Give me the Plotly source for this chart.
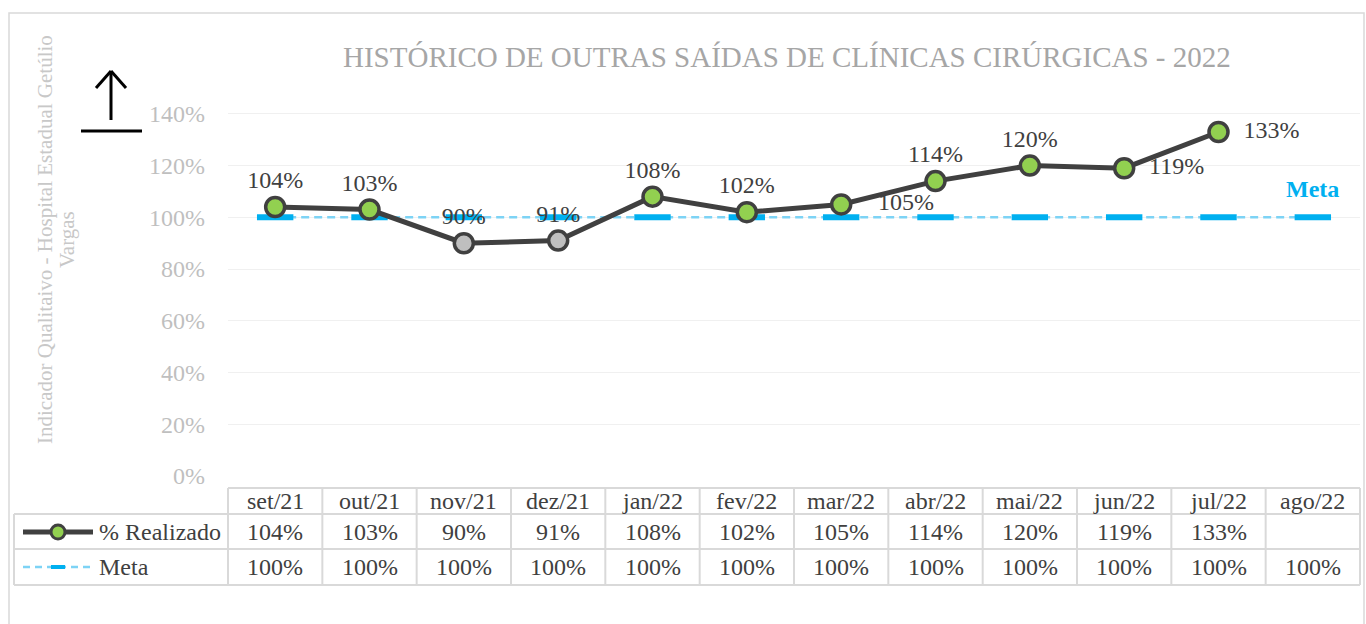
import plotly.graph_objects as go

# data
meses = ["set/21", "out/21", "nov/21", "dez/21", "jan/22", "fev/22",
         "mar/22", "abr/22", "mai/22", "jun/22", "jul/22", "ago/22"]
realizado = [1.04, 1.03, 0.90, 0.91, 1.08, 1.02, 1.05, 1.14, 1.20, 1.19, 1.33, None]
meta = [1.00] * 12
label_pos = ["top center"] * 6 + ["middle right"] + ["top center"] * 2 + ["middle right"] * 2 + ["top center"]
label_pad = [0] * 6 + [4] + [0] * 2 + [2] * 2 + [0]

TITLE = "HISTÓRICO DE OUTRAS SAÍDAS DE CLÍNICAS CIRÚRGICAS - 2022"
YTITLE_1 = "Indicador Qualitaivo - Hospital Estadual Getúlio"
YTITLE_2 = "Vargas"

DARK = "#404040"
GREEN = "#92d050"
GREY = "#bfbfbf"
BLUE = "#00b0f0"
LIGHT_BLUE = "#7dd3f5"
BORDER = "#d9d9d9"
FONT = "Liberation Serif, Times New Roman, serif"
FS = 24

W, H = 1366, 624
L, R, T, B = 228, 6, 88, 148
PW, PH = W - L - R, H - T - B


def px(x):
    return (x - L) / PW


def py(y):
    return (H - B - y) / PH


fig = go.Figure()

fig.add_trace(go.Scatter(
    x=meses, y=meta, mode="lines+markers", name="Meta",
    line=dict(color=LIGHT_BLUE, width=2.5, dash="8px,5px"),
    marker=dict(symbol="line-ew", size=26, line=dict(color=BLUE, width=6)),
    hoverinfo="skip",
))

colors = [GREEN if (v is not None and v >= 1) else GREY for v in realizado]
texts = []
for v, pad in zip(realizado, label_pad):
    texts.append("" if v is None else "\u00a0" * pad + f"{v:.0%}")

fig.add_trace(go.Scatter(
    x=meses, y=realizado, mode="lines+markers+text", name="% Realizado",
    line=dict(color=DARK, width=5),
    marker=dict(size=19, color=colors, line=dict(color=DARK, width=3.5)),
    text=texts, textposition=label_pos,
    textfont=dict(family=FONT, size=FS, color=DARK),
    cliponaxis=False,
))

shapes = []
# outer chart border
shapes.append(dict(type="rect", xref="paper", yref="paper",
                   x0=px(9), x1=px(1364), y0=py(13), y1=py(640),
                   line=dict(color=BORDER, width=1.5)))

# data table grid
tl = dict(color=BORDER, width=2)
col_edges = [228 + i * PW / 12 for i in range(13)]
for yy, x0 in [(488, 228), (514, 14), (549, 14), (585, 14)]:
    shapes.append(dict(type="line", xref="paper", yref="paper",
                       x0=px(x0), x1=px(1360), y0=py(yy), y1=py(yy), line=tl))
for xx in col_edges:
    shapes.append(dict(type="line", xref="paper", yref="paper",
                       x0=px(xx), x1=px(xx), y0=py(488), y1=py(585), line=tl))
shapes.append(dict(type="line", xref="paper", yref="paper",
                   x0=px(14), x1=px(14), y0=py(514), y1=py(585), line=tl))

# legend keys inside the table
shapes.append(dict(type="line", xref="paper", yref="paper",
                   x0=px(23), x1=px(93), y0=py(532), y1=py(532),
                   line=dict(color=DARK, width=5)))
r = 7
shapes.append(dict(type="circle", xref="paper", yref="paper",
                   x0=px(58 - r), x1=px(58 + r), y0=py(532 + r), y1=py(532 - r),
                   fillcolor=GREEN, line=dict(color=DARK, width=3)))
shapes.append(dict(type="line", xref="paper", yref="paper",
                   x0=px(23), x1=px(90), y0=py(567), y1=py(567),
                   line=dict(color=LIGHT_BLUE, width=2.5, dash="7px,5px")))
shapes.append(dict(type="line", xref="paper", yref="paper",
                   x0=px(51), x1=px(65), y0=py(567), y1=py(567),
                   line=dict(color=BLUE, width=4)))

# upward arrow icon
arrow = dict(color="black", width=3)
for (x0, y0, x1, y1) in [(111, 120, 111, 71), (96, 88, 111, 71), (126, 88, 111, 71), (81, 131, 142, 131)]:
    shapes.append(dict(type="line", xref="paper", yref="paper",
                       x0=px(x0), x1=px(x1), y0=py(y0), y1=py(y1), line=arrow))

ann = []
tf = dict(family=FONT, size=FS, color=DARK)
mid = dict(xanchor="center", yanchor="middle", showarrow=False)
for i, m in enumerate(meses):
    ann.append(dict(x=m, xref="x", y=py(501), yref="paper", text=m, font=tf, **mid))
    v = realizado[i]
    ann.append(dict(x=m, xref="x", y=py(532), yref="paper",
                    text="" if v is None else f"{v:.0%}", font=tf, **mid))
    ann.append(dict(x=m, xref="x", y=py(567), yref="paper",
                    text=f"{meta[i]:.0%}", font=tf, **mid))
ann.append(dict(x=px(97), xref="paper", y=py(532), yref="paper", text="% Realizado",
                xanchor="left", yanchor="middle", showarrow=False, font=tf))
ann.append(dict(x=px(97), xref="paper", y=py(567), yref="paper", text="Meta",
                xanchor="left", yanchor="middle", showarrow=False, font=tf))
ann.append(dict(x=meses[-1], xref="x", y=py(189), yref="paper", text="<b>Meta</b>",
                font=dict(family=FONT, size=FS, color=BLUE), **mid))
ann.append(dict(x=px(787), xref="paper", y=py(57), yref="paper", text=TITLE,
                font=dict(family=FONT, size=29, color="#a6a6a6"), **mid))
yt_font = dict(family=FONT, size=21, color="#c8c8c8")
ann.append(dict(x=px(45), xref="paper", y=py(240), yref="paper", text=YTITLE_1,
                textangle=-90, font=yt_font, **mid))
ann.append(dict(x=px(67), xref="paper", y=py(240), yref="paper", text=YTITLE_2,
                textangle=-90, font=yt_font, **mid))

fig.update_layout(
    width=W, height=H,
    margin=dict(l=L, r=R, t=T, b=B),
    paper_bgcolor="white", plot_bgcolor="white",
    font=dict(family=FONT, color=DARK),
    showlegend=False,
    shapes=shapes, annotations=ann,
    xaxis=dict(type="category", range=[-0.5, 11.5], showticklabels=False,
               showgrid=False, zeroline=False, showline=False),
    yaxis=dict(range=[0, 1.5], dtick=0.2, tickformat=".0%", showgrid=True,
               gridcolor="#f0f0f0", gridwidth=1, zeroline=False,
               ticklabelstandoff=22,
               tickfont=dict(family=FONT, size=FS, color=GREY)),
)

fig.write_html("out.html", config={"displayModeBar": False},
               post_script="document.body.style.margin='0px';")
